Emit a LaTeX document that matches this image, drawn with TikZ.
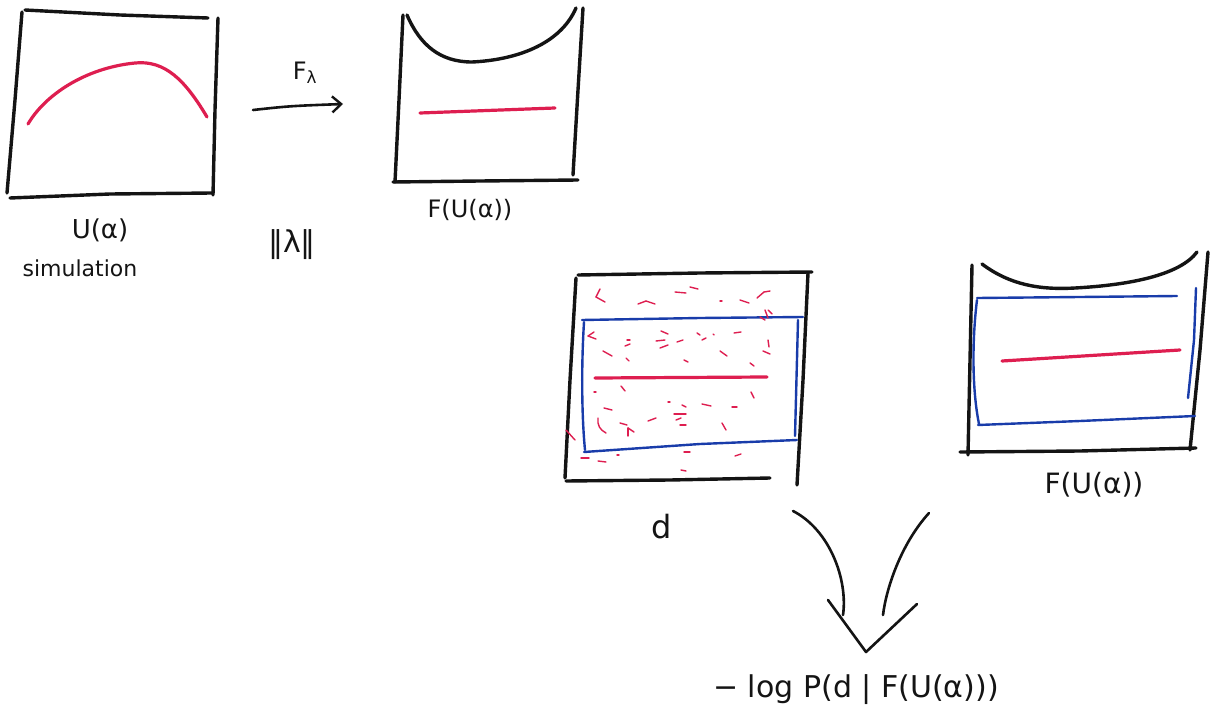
\documentclass[tikz,border=0pt]{standalone}
\usepackage{fontspec}
\setmainfont{DejaVu Sans}
\usetikzlibrary{arrows.meta}
\definecolor{inkred}{RGB}{222,30,80}
\definecolor{inkblue}{RGB}{25,60,170}
\definecolor{ink}{RGB}{20,20,20}
\tikzset{
  frame/.style={draw=ink, line width=3.4pt, line cap=round, line join=round},
  curve/.style={draw=inkred, line width=3.2pt, line cap=round},
  band/.style={draw=inkblue, line width=2.4pt, line cap=round, line join=round},
  speck/.style={draw=inkred, line width=1.4pt, line cap=round},
  pen/.style={draw=ink, line width=2.6pt, line cap=round, line join=round},
  lbl/.style={text=ink, inner sep=0pt, font=\fontsize{22}{24}\selectfont},
}
\begin{document}
\begin{tikzpicture}[x=1pt,y=-1pt]
\useasboundingbox[fill=white] (0,0) rectangle (1222,719);

% ---- Box 1: U(alpha)
\draw[frame] (25,10) -- (120,15) -- (208,18);
\draw[frame] (22,12) -- (15,100) -- (7,193);
\draw[frame] (10,198) -- (110,194) -- (212,193);
\draw[frame] (218,18) -- (215,110) -- (213,195);
\draw[curve] (28,124) .. controls (45,95) and (85,68) .. (135,63) .. controls (165,60) and (185,80) .. (207,117);

% ---- arrow F_lambda
\coordinate (fs) at (253,110);
\coordinate (fe) at (343,104);
\draw[pen, -{Straight Barb[length=9pt,width=16pt,line width=2.4pt]}] (fs) .. controls (290,106) .. (fe);
\node[lbl, font=\fontsize{24}{26}\selectfont] (flab) at (305,73) {F\textsubscript{λ}};

% ---- Box 2: F(U(alpha))
\draw[frame] (403,15) -- (399,100) -- (395,182);
\draw[frame] (393,182) -- (480,181) -- (578,180);
\draw[frame] (583,8) -- (578,90) -- (573,175);
\draw[frame] (407,15) .. controls (420,45) and (440,62) .. (472,62) .. controls (515,60) and (560,45) .. (576,8);
\draw[curve] (420,113) -- (555,108);

% ---- labels row 1
\node[lbl, font=\fontsize{26}{28}\selectfont] (ua) at (100,230) {U(α)};
\node[lbl] (sim) at (80,268) {simulation};
\node[lbl, font=\fontsize{30}{32}\selectfont] (norm) at (292,245) {‖λ‖};
\node[lbl, font=\fontsize{24}{26}\selectfont] (fu1) at (470,210) {F(U(α))};

% ---- Box 3: d
\draw[frame] (578,275) -- (700,273) -- (812,272);
\draw[frame] (576,278) -- (570,380) -- (565,478);
\draw[frame] (566,481) -- (670,480) -- (770,478);
\draw[frame] (808,273) -- (803,380) -- (797,485);
\draw[band] (582,320) -- (700,318) -- (803,317);
\draw[band] (798,320) -- (795,436);
\draw[band] (584,452) -- (700,444) -- (797,440);
\draw[band] (584,322) .. controls (581,370) and (582,420) .. (585,450);
\draw[curve] (595,378) -- (767,377);
% specks
\foreach \a/\b/\c/\d in {
  600/289/596/297, 596/297/605/302,
  638/304/646/301, 646/301/655/304,
  675/292/686/293, 690/287/698/289,
  720/301/722/301, 740/300/749/303,
  757/298/764/292, 764/292/770/291,
  765/310/768/318, 768/310/772/314, 760/317/765/320,
  594/332/588/336, 588/336/596/339,
  627/340/630/340, 625/346/630/344,
  661/331/668/334, 656/341/665/340, 660/348/668/345,
  677/342/683/340, 697/333/700/335, 713/334/714/335,
  702/340/706/338, 734/333/741/332,
  763/351/770/354, 769/347/768/340,
  603/351/612/356, 626/358/629/361, 684/360/688/362,
  720/351/727/356, 750/363/754/366,
  621/386/625/391, 594/392/596/392, 751/392/754/398,
  604/408/612/410, 668/402/670/402,
  682/405/686/407, 702/404/711/406, 732/407/737/407,
  674/414/686/414, 676/420/681/418,
  648/421/656/418, 680/425/686/425, 722/423/726/430,
  566/430/575/440, 620/423/627/425, 628/428/634/432, 628/428/628/436,
  581/458/589/458, 598/461/606/462, 617/455/619/455,
  684/452/690/452, 735/456/741/454, 681/470/686/471}
  \draw[speck] (\a,\b) -- (\c,\d);
\draw[speck] (598,418) .. controls (597,425) and (600,430) .. (606,433);
\node[lbl] (dlab) at (662,527) {\fontsize{32}{34}\selectfont d};

% ---- Box 4: F(U(alpha)) with band
\draw[frame] (972,265) -- (970,360) -- (968,455);
\draw[frame] (960,452) -- (1080,451) -- (1196,448);
\draw[frame] (1208,252) -- (1200,350) -- (1190,450);
\draw[frame] (982,264) .. controls (1010,285) and (1040,290) .. (1075,288) .. controls (1130,285) and (1180,275) .. (1197,252);
\draw[band] (977,298) -- (1080,297) -- (1177,296);
\draw[band] (1196,288) -- (1194,340) -- (1188,398);
\draw[band] (978,425) -- (1080,421) -- (1195,416);
\draw[band] (977,300) .. controls (972,340) and (972,390) .. (979,424);
\draw[curve] (1002,361) -- (1180,350);
\node[lbl, font=\fontsize{28}{30}\selectfont] (fu2) at (1094,485) {F(U(α))};

% ---- combine arrow
\coordinate (la) at (793,511);
\coordinate (lb) at (843,615);
\coordinate (ra) at (929,513);
\coordinate (rb) at (883,615);
\coordinate (vl) at (828,600);
\coordinate (vt) at (866,652);
\coordinate (vr) at (917,604);
\draw[pen] (la) .. controls (830,530) and (848,580) .. (lb);
\draw[pen] (ra) .. controls (900,545) and (886,590) .. (rb);
\draw[pen] (vl) -- (vt) -- (vr);
\node[lbl, font=\fontsize{30}{32}\selectfont] (loss) at (856,690) {− log P(d | F(U(α)))};
\end{tikzpicture}
\end{document}
